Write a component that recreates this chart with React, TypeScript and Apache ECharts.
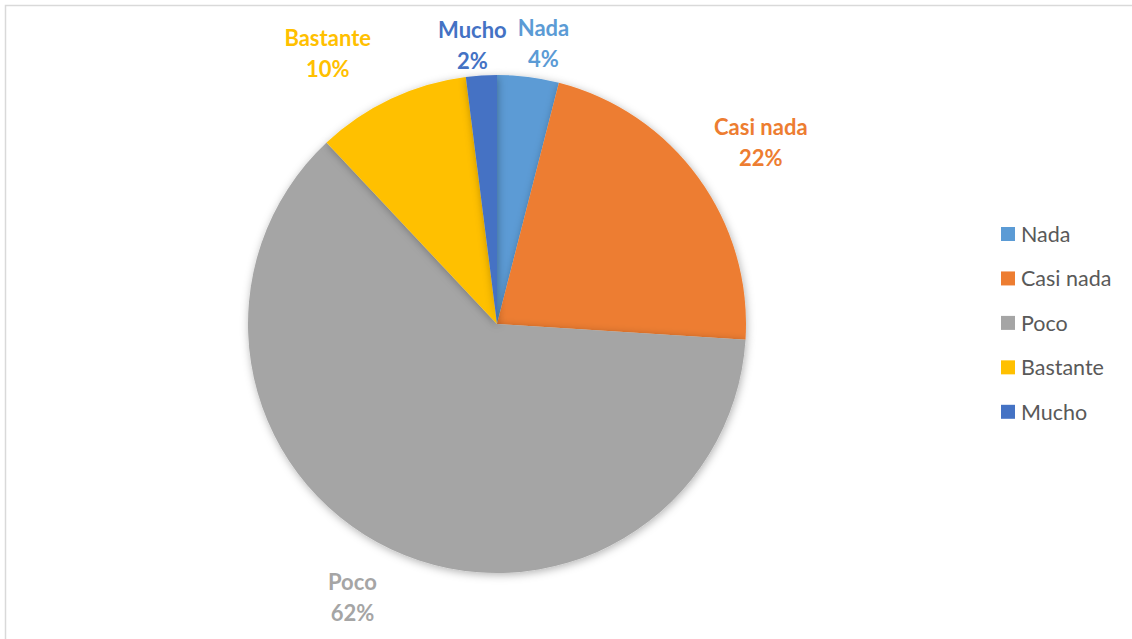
import React, { useEffect, useRef } from "react";
import * as echarts from "echarts";

const categories = ["Nada", "Casi nada", "Poco", "Bastante", "Mucho"];
const values = [4, 22, 62, 10, 2];
const colors = ["#5B9BD5", "#ED7D31", "#A5A5A5", "#FFC000", "#4472C4"];
const labelLineLengths = [34, 61, 53, 50, 31];

export default function App() {
  const ref = useRef<HTMLDivElement>(null);
  useEffect(() => {
    if (!ref.current) return;
    const chart = echarts.init(ref.current, undefined, { renderer: "svg" });
    const labelNudge = [11, 13, -16, -42, -7];
    chart.setOption({
      animation: false,
      backgroundColor: "#ffffff",
      graphic: [
        {
          type: "rect",
          shape: { x: 5.5, y: 5.5, width: 1140, height: 650 },
          style: { fill: "none", stroke: "#d9d9d9", lineWidth: 1.5 },
          silent: true,
        },
      ],
      legend: {
        orient: "vertical",
        left: 1001,
        top: 223,
        padding: 0,
        itemWidth: 14,
        itemHeight: 14,
        itemGap: 22.45,
        icon: "rect",
        data: categories,
        textStyle: {
          color: "#595959",
          fontFamily: "Lato",
          fontSize: 21.5,
          lineHeight: 20,
          padding: [0, 0, 0, 1],
        },
      },
      series: [
        {
          type: "pie",
          center: [497, 324],
          radius: 249,
          startAngle: 90,
          clockwise: true,
          avoidLabelOverlap: false,
          itemStyle: {
            borderWidth: 0,
            shadowBlur: 9,
            shadowColor: "rgba(0,0,0,0.3)",
            shadowOffsetX: 1,
            shadowOffsetY: 2,
          },
          label: {
            show: true,
            position: "outside",
            formatter: "{b}\n{d}%",
            color: "inherit",
            fontFamily: "Lato",
            fontWeight: "bold",
            fontSize: 22,
            lineHeight: 31,
            distanceToLabelLine: 0,
          },
          labelLine: { show: false, length2: 0 },
          labelLayout: (params: any) => ({
            align: "center",
            verticalAlign: "middle",
            dx: labelNudge[params.dataIndex] || 0,
          }),
          emphasis: { disabled: true },
          data: categories.map((name, i) => ({
            name,
            value: values[i],
            itemStyle: { color: colors[i] },
            labelLine: { show: false, length: labelLineLengths[i], length2: 0 },
          })),
        },
      ],
    });
    return () => chart.dispose();
  }, []);
  return (
    <div
      ref={ref}
      style={{ position: "fixed", left: 0, top: 0, width: 1132, height: 639 }}
    />
  );
}
